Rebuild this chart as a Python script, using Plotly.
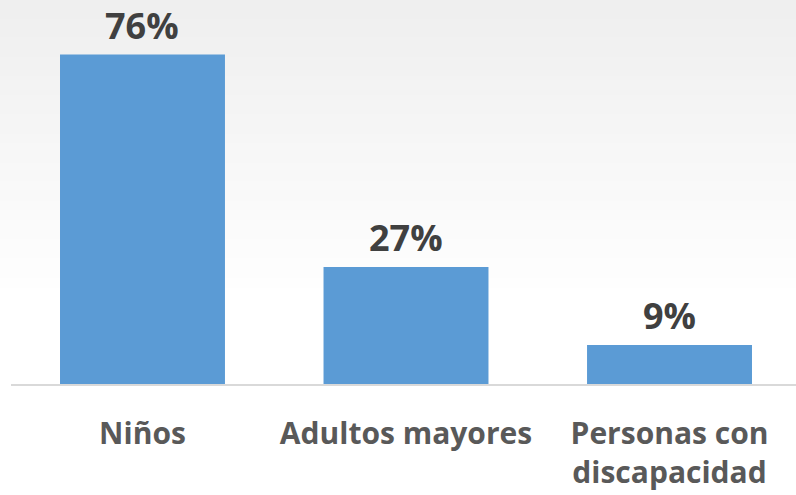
import plotly.graph_objects as go

# data
categories = ["Niños", "Adultos mayores", "Personas con<br>discapacidad"]
values = [76, 27, 9]
labels = ["76%", "27%", "9%"]

fig = go.Figure()

fig.add_trace(go.Bar(
    x=categories,
    y=values,
    marker=dict(color="#5B9BD5", line=dict(width=0)),
    hoverinfo="skip",
))

# value labels above bars
for c, v, t in zip(categories, values, labels):
    fig.add_annotation(
        x=c, y=v, text=t, showarrow=False,
        yanchor="bottom", yshift=3,
        font=dict(family="Open Sans", size=36, color="#404040", weight="bold"),
    )

# soft grey gradient at the top of the background
bands = 30
shapes = []
for i in range(bands):
    y1 = 1.0 - i * (0.75 / bands)
    y0 = y1 - 0.75 / bands
    g = int(239 + (255 - 239) * i / bands)
    shapes.append(dict(
        type="rect", xref="paper", yref="paper",
        x0=-0.02, x1=1.02, y0=y0, y1=y1 + 0.002,
        fillcolor=f"rgb({g},{g},{g})", line=dict(width=0), layer="below",
    ))

fig.update_layout(
    width=796, height=495,
    margin=dict(l=11, r=0, t=0, b=111, autoexpand=False),
    paper_bgcolor="white",
    plot_bgcolor="rgba(0,0,0,0)",
    bargap=0.374,
    showlegend=False,
    shapes=shapes,
    xaxis=dict(
        range=[-0.499, 2.48],
        showline=True, linecolor="#d9d9d9", linewidth=2,
        showgrid=False, zeroline=False, ticks="", automargin=False,
        ticklabelstandoff=22,
        tickfont=dict(family="Open Sans", size=30, color="#595959", weight="bold"),
    ),
    yaxis=dict(
        range=[0, 88.6], visible=False, showgrid=False, zeroline=False,
        automargin=False,
    ),
)

# drop the browser's default body margin so the figure sits at the window corner
fig.write_html(
    "out.html",
    config={"displayModeBar": False},
    post_script="document.body.style.margin='0';",
)
